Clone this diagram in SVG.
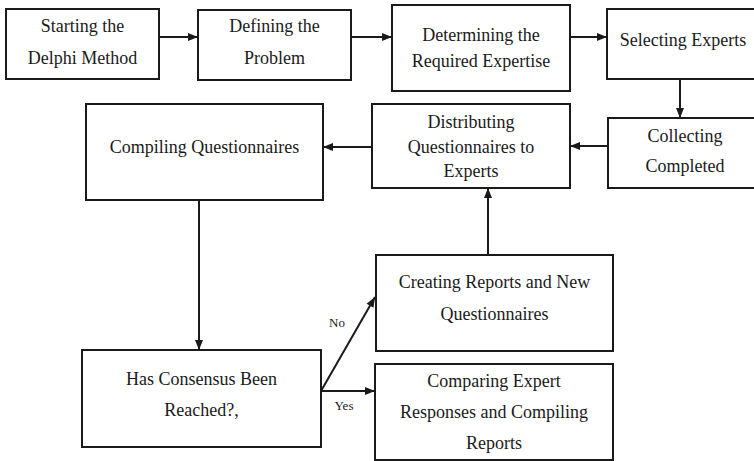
<svg xmlns="http://www.w3.org/2000/svg" width="754" height="461" viewBox="0 0 754 461">
<style>
.box{fill:#fff;stroke:#1a1a1a;stroke-width:2}
.t{font-family:"Liberation Serif","Times New Roman",serif;font-size:18px;fill:#1a1a1a;text-anchor:middle}
.s{font-family:"Liberation Serif","Times New Roman",serif;font-size:13px;fill:#1a1a1a;text-anchor:middle}
.c{fill:none;stroke:#1a1a1a;stroke-width:2;marker-end:url(#ah)}
</style>
<defs>
<marker id="ah" markerUnits="userSpaceOnUse" markerWidth="12" markerHeight="12" viewBox="0 0 12 12" refX="11" refY="6" orient="auto">
<path d="M1,2 L11,6 L1,10 Z" fill="#1a1a1a"/>
</marker>
</defs>
<rect width="754" height="461" fill="#fff"/>
<g id="connectors">
<line class="c" x1="159" y1="37" x2="198" y2="37"/>
<line class="c" x1="351" y1="37" x2="392" y2="37"/>
<line class="c" x1="570" y1="37" x2="607" y2="37"/>
<line class="c" x1="680" y1="79" x2="680" y2="118"/>
<line class="c" x1="608" y1="146" x2="570" y2="146"/>
<line class="c" x1="372" y1="147" x2="323" y2="147"/>
<line class="c" x1="199" y1="200" x2="199" y2="350"/>
<line class="c" x1="488" y1="255" x2="488" y2="188"/>
<line class="c" x1="321" y1="391" x2="375" y2="297"/>
<line class="c" x1="321" y1="391" x2="375" y2="391"/>
<text class="s" x="337" y="327">No</text>
<text class="s" x="344" y="410">Yes</text>
</g>
<g id="start">
<rect class="box" x="6" y="9" width="153" height="70"/>
<text class="t" x="82.5" y="32">Starting the</text>
<text class="t" x="82.5" y="64">Delphi Method</text>
</g>
<g id="define">
<rect class="box" x="198" y="10" width="153" height="70"/>
<text class="t" x="274.5" y="32">Defining the</text>
<text class="t" x="274.5" y="64">Problem</text>
</g>
<g id="determine">
<rect class="box" x="392" y="5" width="178" height="86"/>
<text class="t" x="481" y="41">Determining the</text>
<text class="t" x="481" y="67">Required Expertise</text>
</g>
<g id="select">
<rect class="box" x="607" y="9" width="170" height="70"/>
<text class="t" x="683" y="46">Selecting Experts</text>
</g>
<g id="collect">
<rect class="box" x="608" y="118" width="170" height="70"/>
<text class="t" x="685" y="142">Collecting</text>
<text class="t" x="685" y="172">Completed</text>
</g>
<g id="distribute">
<rect class="box" x="372" y="104" width="198" height="84"/>
<text class="t" x="471" y="128">Distributing</text>
<text class="t" x="471" y="153">Questionnaires to</text>
<text class="t" x="471" y="177">Experts</text>
</g>
<g id="compile">
<rect class="box" x="86" y="104" width="237" height="96"/>
<text class="t" x="204.5" y="153">Compiling Questionnaires</text>
</g>
<g id="consensus">
<rect class="box" x="82" y="350" width="239" height="97"/>
<text class="t" x="201.5" y="385">Has Consensus Been</text>
<text class="t" x="201.5" y="416">Reached?,</text>
</g>
<g id="create">
<rect class="box" x="376" y="255" width="237" height="96"/>
<text class="t" x="494.5" y="288">Creating Reports and New</text>
<text class="t" x="494.5" y="320">Questionnaires</text>
</g>
<g id="compare">
<rect class="box" x="375" y="364" width="238" height="96"/>
<text class="t" x="494" y="387">Comparing Expert</text>
<text class="t" x="494" y="418">Responses and Compiling</text>
<text class="t" x="494" y="449">Reports</text>
</g>
</svg>
